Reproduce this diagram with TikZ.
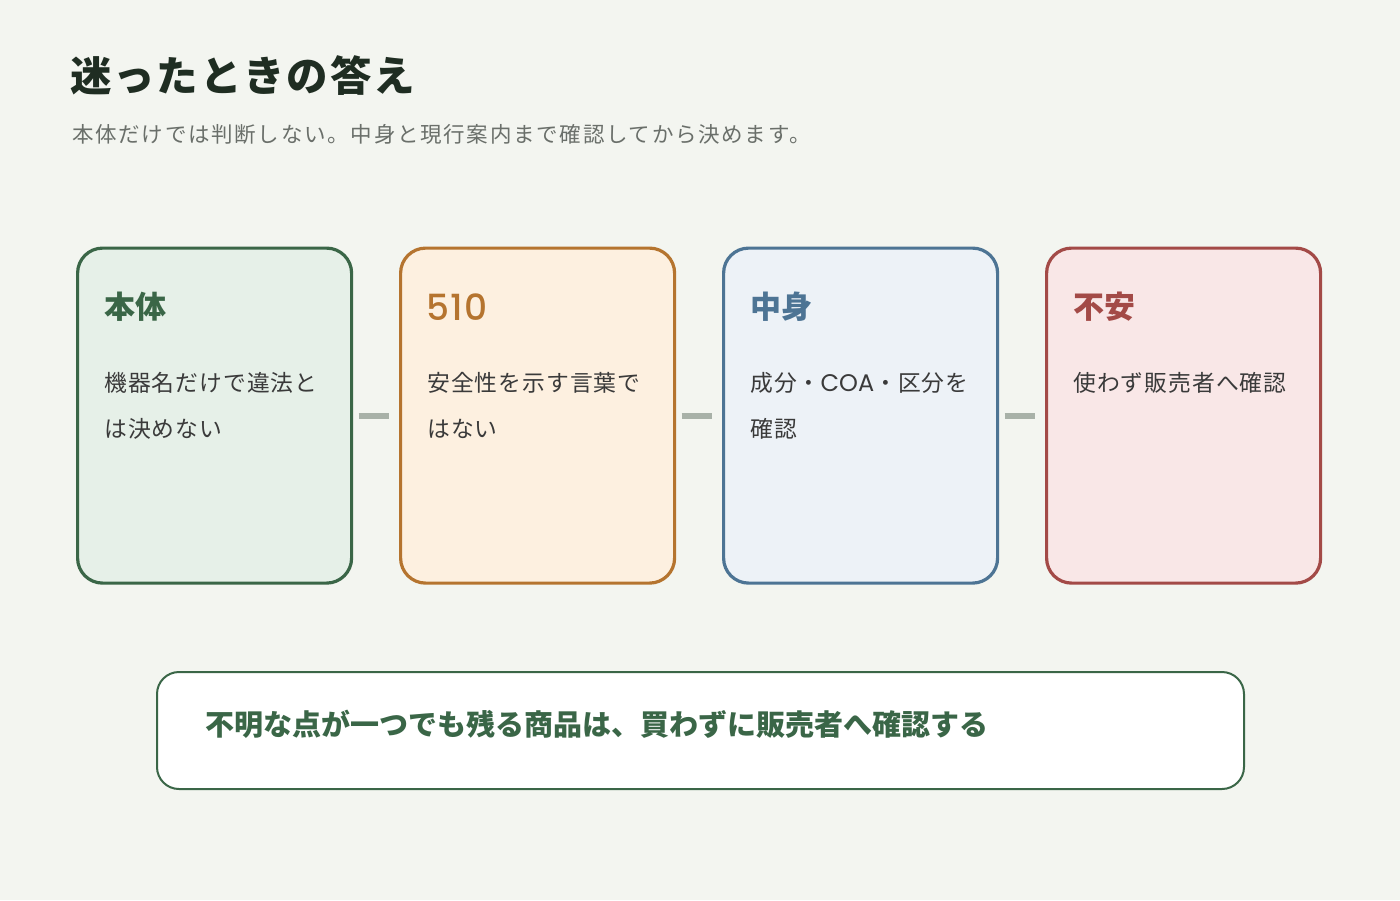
\documentclass[tikz,border=0pt]{standalone}
\usepackage{fontspec}
\setmainfont{Noto Sans CJK JP}
\newfontfamily\titlefont[LetterSpace=4.5]{Noto Sans CJK JP}
\newfontfamily\subfont[LetterSpace=8]{Noto Sans CJK JP}
\newfontfamily\bodyfont[LetterSpace=4.5]{Noto Sans CJK JP}
\newfontfamily\latinfont[BoldFont={Poppins Medium}]{Poppins}
\newfontfamily\digitfont[LetterSpace=4]{Poppins Medium}
\definecolor{bg}{HTML}{F3F5F0}
\definecolor{ink}{HTML}{1F2D22}
\definecolor{sub}{HTML}{6A6F6A}
\definecolor{body}{HTML}{3A3A3A}
\definecolor{gline}{HTML}{3A6647}
\definecolor{gfill}{HTML}{E6F0E8}
\definecolor{oline}{HTML}{B5742F}
\definecolor{ofill}{HTML}{FDF0E0}
\definecolor{bline}{HTML}{4D7494}
\definecolor{bfill}{HTML}{EDF2F7}
\definecolor{rline}{HTML}{A34A47}
\definecolor{rfill}{HTML}{F9E7E7}
\definecolor{bar}{HTML}{A8B1A8}
\begin{document}
\begin{tikzpicture}[x=1pt,y=-1pt,
  card/.style={draw,line width=3.2pt,rounded corners=25pt,minimum width=274pt,minimum height=335pt,anchor=north west,inner sep=0pt},
  ctitle/.style={anchor=west,inner sep=0pt,font=\fontsize{31}{36}\selectfont\bfseries},
  cbody/.style={anchor=west,inner sep=0pt,text=body,font=\bodyfont\fontsize{22.8}{27}\selectfont},
  conn/.style={draw=bar,line width=6pt}]
\fill[bg] (0,0) rectangle (1400,900);
\useasboundingbox (0,0) rectangle (1400,900);
\node[anchor=west,inner sep=0pt,text=ink,font=\titlefont\fontsize{41.5}{48}\selectfont\bfseries] (title) at (70,76) {迷ったときの答え};
\node[anchor=west,inner sep=0pt,text=sub,font=\subfont\fontsize{21.5}{26}\selectfont] (subtitle) at (72,134) {本体だけでは判断しない。中身と現行案内まで確認してから決めます。};
% cards
\node[card,draw=gline,fill=gfill] (c1) at (76,246.5) {};
\node[card,draw=oline,fill=ofill] (c2) at (399,246.5) {};
\node[card,draw=bline,fill=bfill] (c3) at (722,246.5) {};
\node[card,draw=rline,fill=rfill] (c4) at (1045,246.5) {};
% titles
\node[ctitle,text=gline] (t1) at (104,307) {本体};
\node[anchor=west,inner sep=0pt,text=oline,font=\digitfont\fontsize{36}{40}\selectfont] (t2) at (426,307) {510};
\node[ctitle,text=bline] (t3) at (750,307) {中身};
\node[ctitle,text=rline] (t4) at (1073,307) {不安};
% bodies
\node[cbody] (b1a) at (104,383) {機器名だけで違法と};
\node[cbody] (b1b) at (104,429) {は決めない};
\node[cbody] (b2a) at (427,383) {安全性を示す言葉で};
\node[cbody] (b2b) at (427,429) {はない};
\node[cbody] (b3a) at (750,383) {成分・{\latinfont\fontsize{24}{27}\selectfont COA}・区分を};
\node[cbody] (b3b) at (750,429) {確認};
\node[cbody] (b4a) at (1073,383) {使わず販売者へ確認};
% connectors
\draw[conn] ([xshift=5.5pt]c1.east) -- ([xshift=-10pt]c2.west);
\draw[conn] ([xshift=5.5pt]c2.east) -- ([xshift=-10pt]c3.west);
\draw[conn] ([xshift=5.5pt]c3.east) -- ([xshift=-10pt]c4.west);
% bottom
\node[draw=gline,line width=2pt,fill=white,rounded corners=22pt,minimum width=1087pt,minimum height=117pt,anchor=north west,inner sep=0pt] (note) at (156,671) {};
\node[anchor=west,inner sep=0pt,text=gline,font=\fontsize{29}{34}\selectfont\bfseries] (notetext) at (205,724) {不明な点が一つでも残る商品は、買わずに販売者へ確認する};
\end{tikzpicture}
\end{document}
